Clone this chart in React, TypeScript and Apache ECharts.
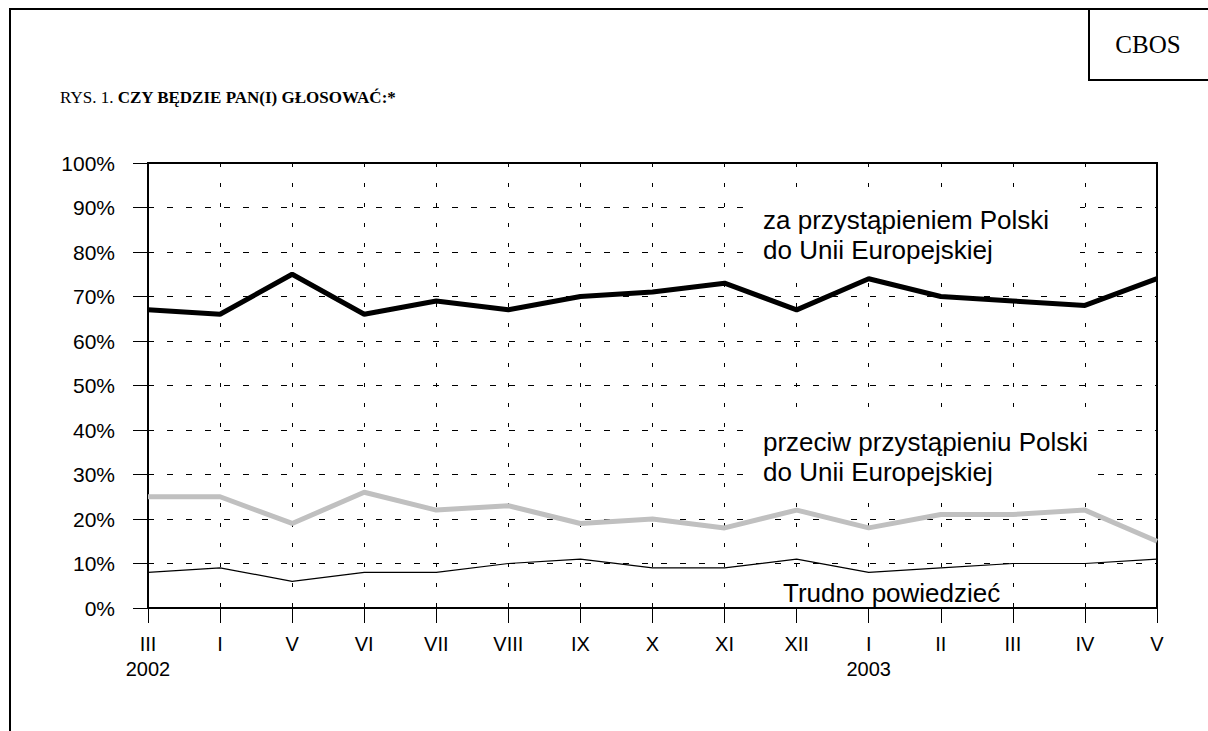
import React, { useEffect, useRef } from "react";
import * as echarts from "echarts";

const months = ["III", "I", "V", "VI", "VII", "VIII", "IX", "X", "XI", "XII", "I", "II", "III", "IV", "V"];
const years = ["2002", "", "", "", "", "", "", "", "", "", "2003", "", "", "", ""];
const yTicks = [0, 10, 20, 30, 40, 50, 60, 70, 80, 90, 100];

const zaValues = [67, 66, 75, 66, 69, 67, 70, 71, 73, 67, 74, 70, 69, 68, 74];
const przeciwValues = [25, 25, 19, 26, 22, 23, 19, 20, 18, 22, 18, 21, 21, 22, 15];
const trudnoValues = [8, 9, 6, 8, 8, 10, 11, 9, 9, 11, 8, 9, 10, 10, 11];

const zaLabel = "za przystąpieniem Polski\ndo Unii Europejskiej";
const przeciwLabel = "przeciw przystąpieniu Polski\ndo Unii Europejskiej";
const trudnoLabel = "Trudno powiedzieć";
const titlePrefix = "RYS. 1. ";
const titleBold = "CZY BĘDZIE PAN(I) GŁOSOWAĆ:*";
const sourceLabel = "CBOS";

const SANS = "'Liberation Sans', Arial, sans-serif";
const SERIF = "'Liberation Serif', 'Times New Roman', serif";

export default function App() {
  const ref = useRef<HTMLDivElement>(null);

  useEffect(() => {
    document.body.style.margin = "0";
    const chart = echarts.init(ref.current!, null, { renderer: "svg" });
    const option: any = {
      animation: false,
      backgroundColor: "#ffffff",
      grid: {
        left: 148,
        right: 51,
        top: 163,
        bottom: 123,
        show: true,
        borderColor: "#000",
        borderWidth: 2,
        backgroundColor: "transparent",
      },
      xAxis: {
        type: "category",
        boundaryGap: false,
        data: months,
        axisLine: { show: true, lineStyle: { color: "#000", width: 2 } },
        axisTick: { show: true, length: 15, lineStyle: { color: "#000", width: 1 } },
        axisLabel: {
          color: "#000",
          fontFamily: SANS,
          fontSize: 20,
          lineHeight: 25,
          margin: 23,
          interval: 0,
          formatter: (v: string, i: number) => (years[i] ? v + "\n" + years[i] : v),
        },
        splitLine: { show: true, lineStyle: { color: "#000", width: 1, type: [4, 16] } },
      },
      yAxis: {
        type: "value",
        min: yTicks[0],
        max: yTicks[yTicks.length - 1],
        interval: yTicks[1] - yTicks[0],
        axisLine: { show: true, lineStyle: { color: "#000", width: 2 } },
        axisTick: { show: true, length: 15, lineStyle: { color: "#000", width: 1 } },
        axisLabel: {
          color: "#000",
          fontFamily: SANS,
          fontSize: 21,
          margin: 33,
          formatter: "{value}%",
        },
        splitLine: { show: true, lineStyle: { color: "#000", width: 1, type: [6, 13] } },
      },
      series: [
        {
          name: "przeciw",
          type: "line",
          data: przeciwValues,
          showSymbol: false,
          lineStyle: { color: "#c0c0c0", width: 5 },
          z: 3,
        },
        {
          name: "trudno",
          type: "line",
          data: trudnoValues,
          showSymbol: false,
          lineStyle: { color: "#000", width: 1.2 },
          z: 3,
        },
        {
          name: "za",
          type: "line",
          data: zaValues,
          showSymbol: false,
          lineStyle: { color: "#000", width: 5 },
          z: 4,
        },
      ],
      graphic: [
        { type: "line", z: 10, shape: { x1: 10, y1: 9, x2: 10, y2: 731 }, style: { stroke: "#000", lineWidth: 2 } },
        { type: "line", z: 10, shape: { x1: 9, y1: 9, x2: 1208, y2: 9 }, style: { stroke: "#000", lineWidth: 2 } },
        { type: "line", z: 10, shape: { x1: 1089, y1: 9, x2: 1089, y2: 80 }, style: { stroke: "#000", lineWidth: 2 } },
        { type: "line", z: 10, shape: { x1: 1088, y1: 80, x2: 1208, y2: 80 }, style: { stroke: "#000", lineWidth: 2 } },
        {
          type: "text",
          z: 10,
          x: 1148,
          y: 44,
          style: { text: sourceLabel, font: "25px " + SERIF, fill: "#000", align: "center", verticalAlign: "middle" },
        },
        {
          type: "text",
          z: 10,
          x: 60,
          y: 97,
          style: {
            text: "{n|" + titlePrefix + "}{b|" + titleBold + "}",
            fill: "#000",
            verticalAlign: "middle",
            rich: {
              n: { font: "17px " + SERIF, fill: "#000" },
              b: { font: "bold 17px " + SERIF, fill: "#000" },
            },
          },
        },
        { type: "rect", z: 1, shape: { x: 748, y: 203, width: 332, height: 67 }, style: { fill: "#fff" } },
        {
          type: "text",
          z: 1,
          x: 763,
          y: 205,
          style: { text: zaLabel, font: "26px " + SANS, lineHeight: 30, fill: "#000", verticalAlign: "top" },
        },
        { type: "rect", z: 1, shape: { x: 748, y: 415, width: 350, height: 80 }, style: { fill: "#fff" } },
        {
          type: "text",
          z: 1,
          x: 763,
          y: 427,
          style: { text: przeciwLabel, font: "26px " + SANS, lineHeight: 30, fill: "#000", verticalAlign: "top" },
        },
        { type: "rect", z: 1, shape: { x: 775, y: 575, width: 235, height: 32 }, style: { fill: "#fff" } },
        {
          type: "text",
          z: 1,
          x: 783,
          y: 578,
          style: { text: trudnoLabel, font: "26px " + SANS, lineHeight: 30, fill: "#000", verticalAlign: "top" },
        },
      ],
    };
    chart.setOption(option);
    return () => chart.dispose();
  }, []);

  return <div ref={ref} style={{ width: 1208, height: 731 }} />;
}
